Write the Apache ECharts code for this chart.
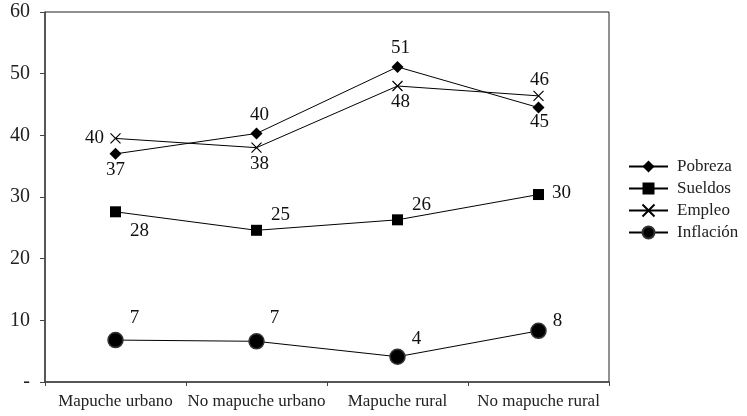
<!DOCTYPE html>
<html>
<head>
<meta charset="utf-8">
<script src="https://cdn.jsdelivr.net/npm/echarts@6/dist/echarts.min.js"></script>
<style>
  html, body { margin: 0; padding: 0; background: #fff; }
  #chart { width: 747px; height: 416px; }
</style>
</head>
<body>
<div id="chart"></div>
<script>
// Groups and indicators
const categories = ['Mapuche urbano', 'No mapuche urbano', 'Mapuche rural', 'No mapuche rural'];
const pobreza   = [37.0, 40.3, 51.1, 44.5];
const sueldos   = [27.6, 24.6, 26.3, 30.4];
const empleo    = [39.5, 38.0, 48.0, 46.4];
const inflacion = [6.8, 6.6, 4.1, 8.3];
const yTicks = [0, 10, 20, 30, 40, 50, 60];

// Label placement (offset of the value text from each point)
const offPobreza   = [[0, 16], [3, -18], [3, -19], [1, 14]];
const offEmpleo    = [[-21, 0], [3, 16], [3, 16], [1, -16]];
const offSueldos   = [[24, 19], [24, -15], [24, -15], [23, -2]];
const offInflacion = [[19, -22], [18, -23], [19, -18], [19, -10]];

const FONT = 'Liberation Serif';
const crossPath = 'path://M0,0L10,10M10,0L0,10';

function withLabels(values, offsets) {
  return values.map((v, i) => ({
    value: v,
    label: { offset: offsets[i] }
  }));
}

function makeSeries(name, values, offsets, symbol, size, extraItem) {
  return {
    name: name,
    type: 'line',
    data: withLabels(values, offsets),
    symbol: symbol,
    symbolSize: size,
    lineStyle: { color: '#000', width: 1 },
    itemStyle: Object.assign({ color: '#000' }, extraItem || {}),
    label: {
      show: true,
      position: 'inside',
      align: 'center',
      verticalAlign: 'middle',
      color: '#111',
      fontFamily: FONT,
      fontSize: 19,
      formatter: p => Math.round(p.value)
    },
    emphasis: { disabled: true },
    animation: false
  };
}

const chart = echarts.init(document.getElementById('chart'));
chart.setOption({
  backgroundColor: '#fff',
  textStyle: { fontFamily: FONT },
  grid: {
    left: 45, right: 138, top: 12, bottom: 34,
    show: true, borderColor: '#222', borderWidth: 1, backgroundColor: 'transparent'
  },
  legend: {
    orient: 'vertical',
    left: 628,
    top: 158,
    padding: 0,
    itemWidth: 39,
    itemHeight: 15,
    itemGap: 5,
    textStyle: { fontFamily: FONT, fontSize: 17, color: '#222', padding: [0, 0, 0, 4] },
    data: ['Pobreza', 'Sueldos', 'Empleo', 'Inflación']
  },
  xAxis: {
    type: 'category',
    data: categories,
    boundaryGap: true,
    axisLine: { lineStyle: { color: '#444', width: 1.5 } },
    axisTick: { show: true, length: 4, alignWithLabel: false, lineStyle: { color: '#444' } },
    axisLabel: { fontFamily: FONT, fontSize: 17, color: '#222', margin: 11, interval: 0 },
    splitLine: { show: false }
  },
  yAxis: {
    type: 'value',
    min: yTicks[0],
    max: yTicks[yTicks.length - 1],
    interval: 10,
    axisLine: { show: true, lineStyle: { color: '#444', width: 1.5 } },
    axisTick: { show: true, length: 5, lineStyle: { color: '#444' } },
    axisLabel: {
      fontFamily: FONT, fontSize: 20, color: '#222', margin: 15,
      formatter: v => (v === 0 ? '-' : String(v))
    },
    splitLine: { show: false }
  },
  series: [
    makeSeries('Pobreza', pobreza, offPobreza, 'diamond', 12),
    makeSeries('Sueldos', sueldos, offSueldos, 'rect', 11),
    makeSeries('Empleo', empleo, offEmpleo, crossPath, 10, { borderColor: '#000', borderWidth: 1.2 }),
    makeSeries('Inflación', inflacion, offInflacion, 'circle', 15, { borderColor: '#333', borderWidth: 1.5 })
  ]
});
</script>
</body>
</html>
